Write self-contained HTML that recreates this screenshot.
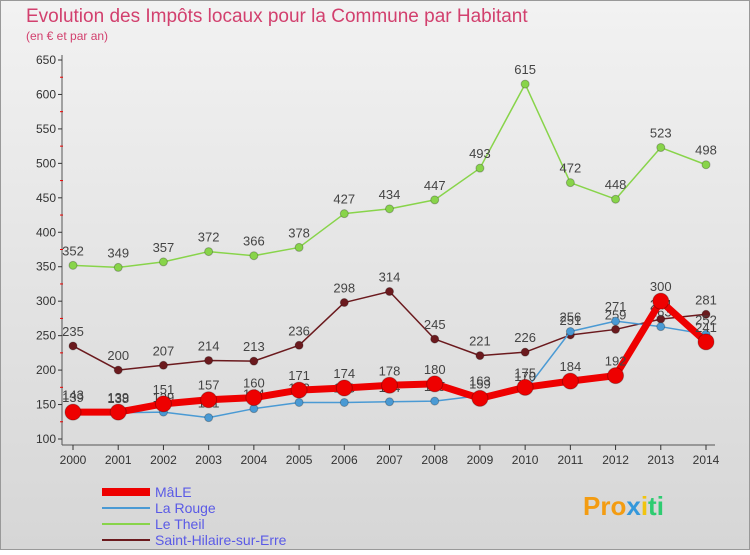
<!DOCTYPE html>
<html><head><meta charset="utf-8"><style>
body{margin:0;width:750px;height:550px;overflow:hidden;font-family:"Liberation Sans",sans-serif}
</style></head><body>
<svg width="750" height="550" xmlns="http://www.w3.org/2000/svg">
<defs><linearGradient id="bg" x1="0" y1="0" x2="0" y2="1"><stop offset="0" stop-color="#f2f2f2"/><stop offset="1" stop-color="#d6d6d6"/></linearGradient></defs>
<rect x="0.5" y="0.5" width="749" height="549" fill="url(#bg)" stroke="#999"/>
<text x="26" y="22" font-size="19" fill="#d2406e">Evolution des Impôts locaux pour la Commune par Habitant</text>
<text x="26" y="40" font-size="12" fill="#d2406e">(en € et par an)</text>
<g id="axes"></g>
<g id="series"></g>
<g id="legend"></g>
<text x="583" y="515" font-size="26" font-weight="bold" fill="#f39c12">Pro<tspan fill="#3498db">x</tspan><tspan fill="#f1c40f">i</tspan><tspan fill="#2ecc71">ti</tspan></text>
</svg>
<script>
const years=[2000,2001,2002,2003,2004,2005,2006,2007,2008,2009,2010,2011,2012,2013,2014];
const yTicks=[100,150,200,250,300,350,400,450,500,550,600,650];
const male=[139,139,151,157,160,171,174,178,180,159,175,184,192,300,241];
const rouge=[143,138,139,131,144,153,153,154,155,163,170,256,271,263,252];
const theil=[352,349,357,372,366,378,427,434,447,493,615,472,448,523,498];
const hilaire=[235,200,207,214,213,236,298,314,245,221,226,251,259,274,281];
const NS="http://www.w3.org/2000/svg";
function X(i){return 73+i*(706-73)/(years.length-1);}
function Y(v){return 439-(v-100)*379/550;}
function mk(t,a,p){const e=document.createElementNS(NS,t);for(const k in a)e.setAttribute(k,a[k]);p.appendChild(e);return e;}
const ax=document.getElementById('axes');
const la=mk('line',{x1:62,y1:55,x2:62,y2:445,stroke:'#555'},ax);


const lb=mk('line',{x1:62,y1:445,x2:715,y2:445,stroke:'#555'},ax);


yTicks.forEach((v,k)=>{
 mk('line',{x1:58,y1:Y(v),x2:62,y2:Y(v),stroke:'#333'},ax);
 if(k<yTicks.length-1) mk('line',{x1:60,y1:Y(v+25),x2:63,y2:Y(v+25),stroke:'#e00'},ax);
 const t=mk('text',{x:56,y:Y(v)+4,'text-anchor':'end','font-size':12,fill:'#333'},ax);t.textContent=v;
 
 
});
years.forEach((yr,i)=>{
 mk('line',{x1:X(i),y1:445,x2:X(i),y2:450,stroke:'#333'},ax);
 const t=mk('text',{x:X(i),y:464,'text-anchor':'middle','font-size':12,fill:'#333'},ax);t.textContent=yr;
 
 
});
const sg=document.getElementById('series');
function series(d,color,w,r,name){
 const g=mk('g',{},sg);
 
 
 mk('polyline',{points:d.map((v,i)=>X(i)+','+Y(v)).join(' '),fill:'none',stroke:color,'stroke-width':w,'stroke-linejoin':'round'},g);
 d.forEach((v,i)=>{
  const c=mk('circle',{cx:X(i),cy:Y(v),r:r,fill:color,stroke:'rgba(0,0,0,0.25)','stroke-width':1},g);
  
  
  const t=mk('text',{x:X(i),y:Y(v)-10,'text-anchor':'middle','font-size':13,fill:'#444'},g);t.textContent=v;
  
  
 });
}
series(theil,'#88d44a',1.5,4,'series-le-theil');
series(hilaire,'#6b1a1e',1.5,4,'series-saint-hilaire');
series(rouge,'#4a9ad4',1.5,4,'series-la-rouge');
series(male,'#ee0000',7,8,'series-male');
const lg=document.getElementById('legend');
const items=[['MâLE','#ee0000',8],['La Rouge','#4a9ad4',2],['Le Theil','#88d44a',2],['Saint-Hilaire-sur-Erre','#6b1a1e',2]];
items.forEach((it,i)=>{
 const y=492+i*16;
 const g=mk('g',{},lg);
 
 
 mk('line',{x1:102,y1:y,x2:150,y2:y,stroke:it[1],'stroke-width':it[2]},g);
 const t=mk('text',{x:155,y:y+5,'font-size':14,fill:'#5a5ae6'},g);t.textContent=it[0];
});
</script>
</body></html>
